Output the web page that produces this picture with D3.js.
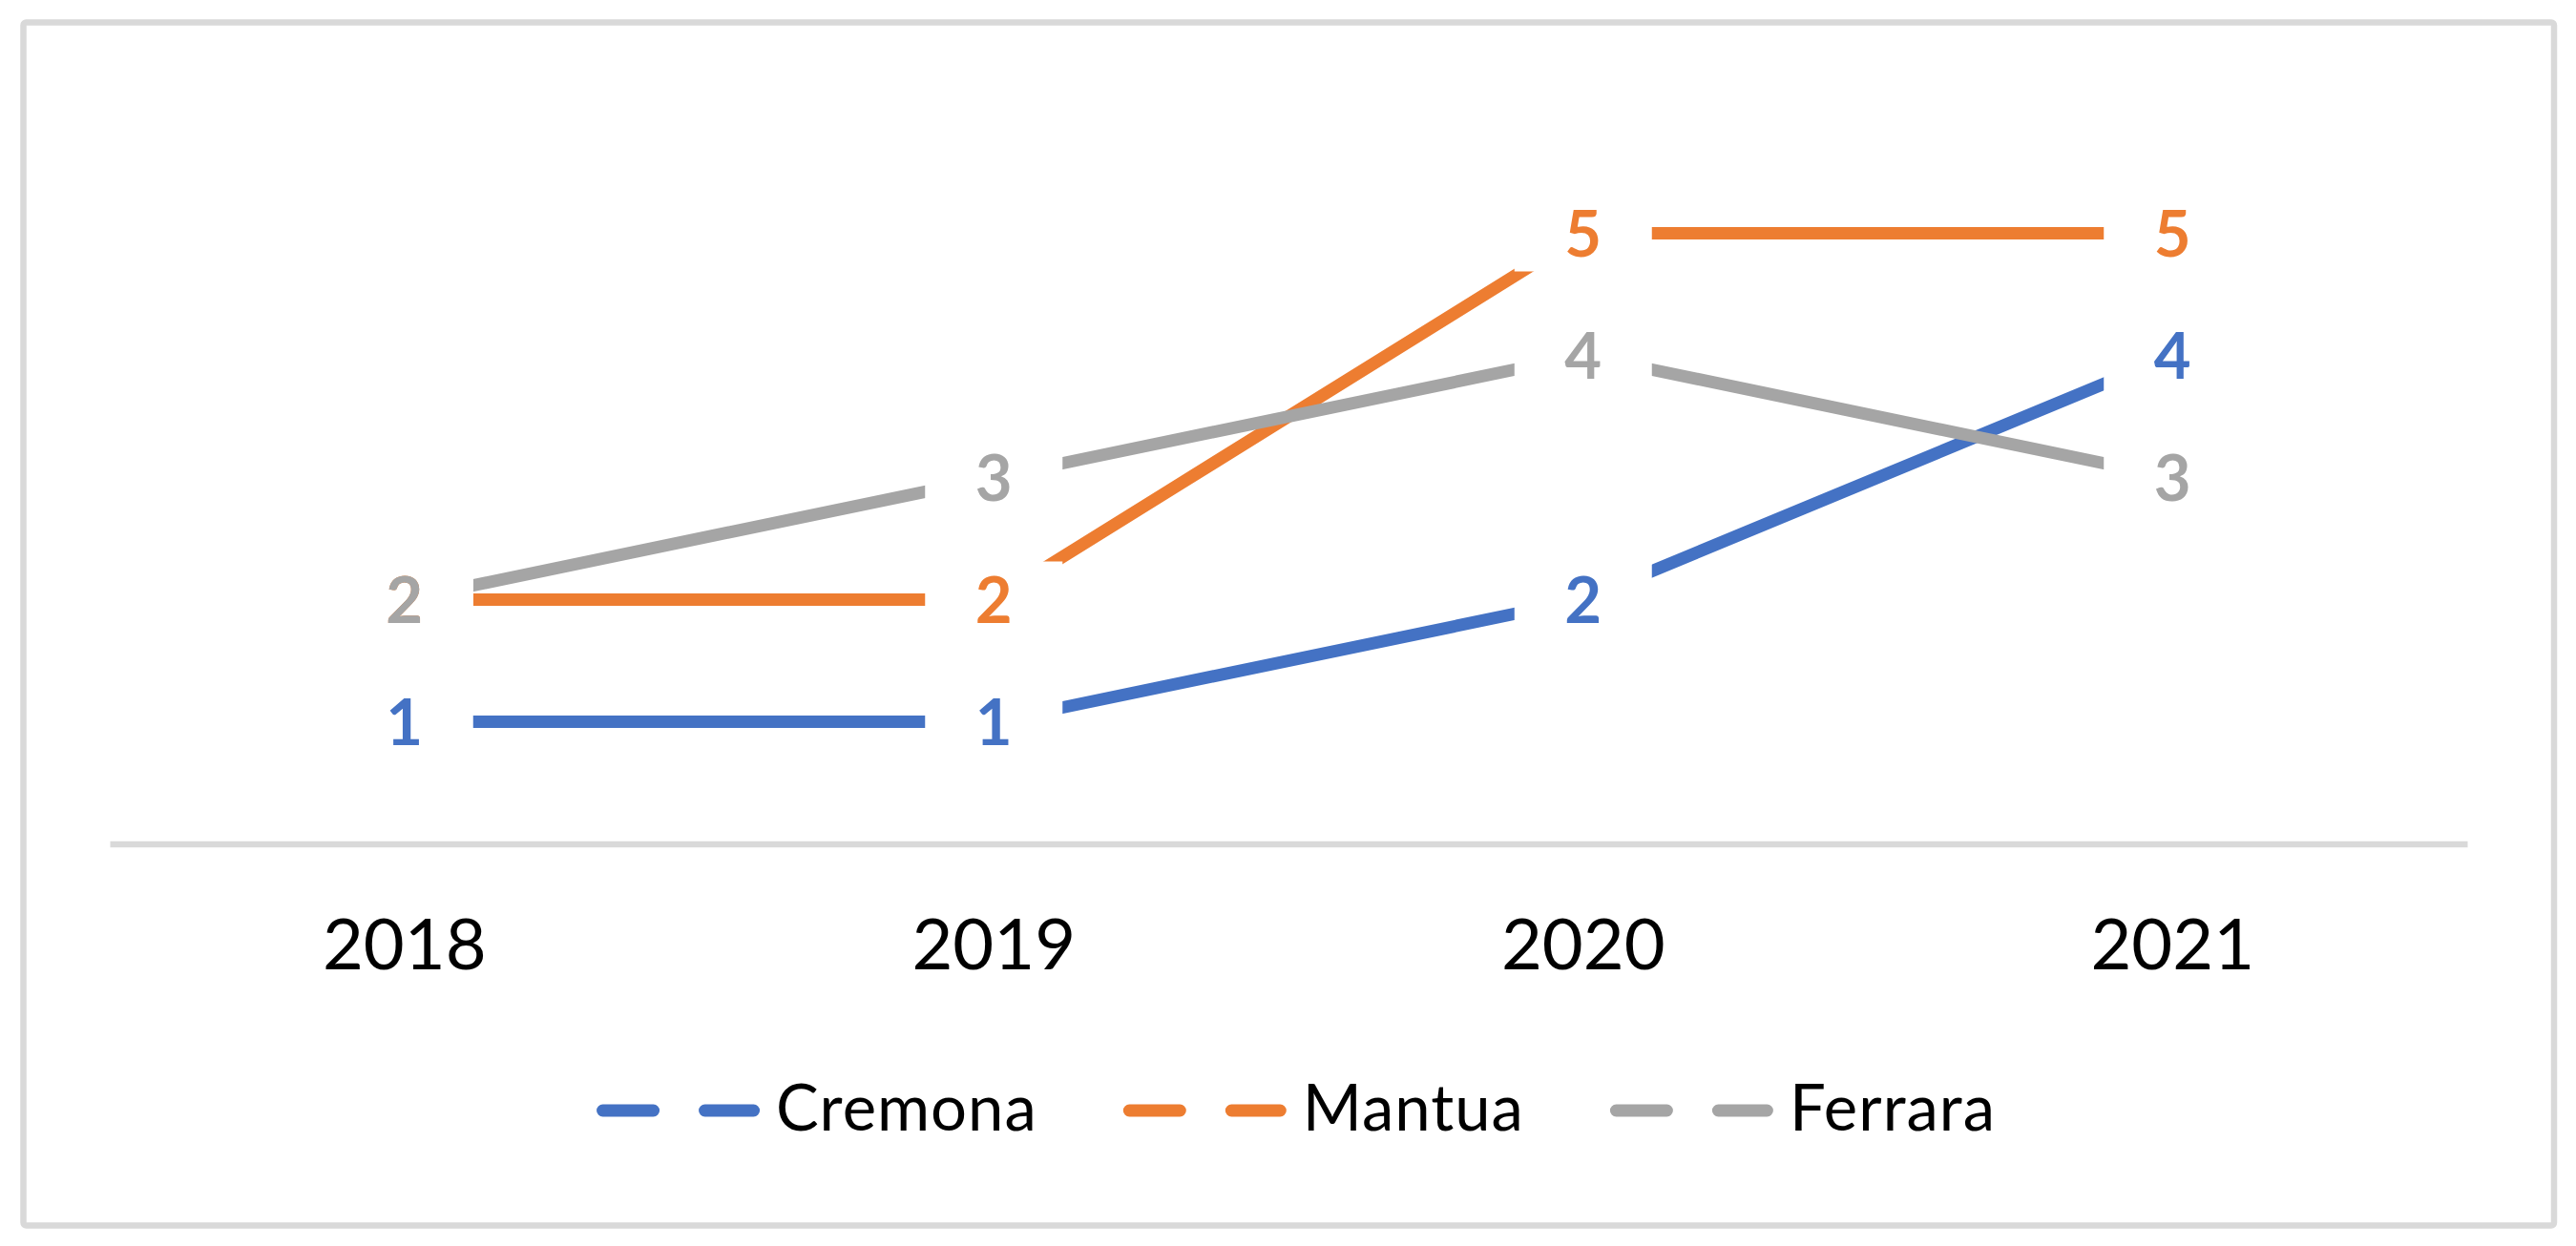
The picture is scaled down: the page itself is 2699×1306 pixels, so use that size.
<!DOCTYPE html>
<html>
<head>
<meta charset="utf-8">
<script src="https://cdn.jsdelivr.net/npm/d3@7"></script>
<style>
  html, body { margin: 0; padding: 0; background: #ffffff; }
  svg { display: block; }
</style>
</head>
<body>
<svg id="chart" width="2699" height="1306"></svg>
<script>
const categories = ["2018", "2019", "2020", "2021"];
const seriesNames = ["Cremona", "Mantua", "Ferrara"];
const cremona = [1, 1, 2, 4];
const mantua = [2, 2, 5, 5];
const ferrara = [2, 3, 4, 3];
const seriesColors = ["#4472C4", "#ED7D31", "#A5A5A5"];

const seriesValues = [cremona, mantua, ferrara];
const series = seriesNames.map((name, i) => ({
  name,
  color: seriesColors[i],
  values: seriesValues[i].map((v, j) => ({ cat: categories[j], value: v }))
}));

const W = 2699, H = 1306;
const svg = d3.select("#chart");
const fontFamily = "Lato, 'Open Sans', sans-serif";

// outer border
svg.append("rect")
  .attr("x", 24.5).attr("y", 23.5)
  .attr("width", 2676 - 24.5).attr("height", 1284.5 - 23.5)
  .attr("rx", 3)
  .attr("fill", "#ffffff")
  .attr("stroke", "#D9D9D9")
  .attr("stroke-width", 6.5);

const plotLeft = 115, plotRight = 2585;
const x = d3.scaleBand().domain(categories).range([plotLeft, plotRight]).padding(0);
const y = d3.scaleLinear().domain([0, 6]).range([884.5, 116.5]);
const cx = c => x(c) + x.bandwidth() / 2;

// category axis
const xAxis = d3.axisBottom(x).tickSize(0).tickPadding(0);
const gx = svg.append("g").attr("transform", `translate(0,${y(0)})`).call(xAxis);
gx.select(".domain").attr("stroke", "#D9D9D9").attr("stroke-width", 6.5);
gx.selectAll(".tick text")
  .attr("y", 0)
  .attr("dy", null)
  .attr("transform", "translate(0,131)")
  .attr("font-family", fontFamily)
  .attr("font-size", 74)
  .attr("fill", "#000000");

// lines
const line = d3.line().x(d => cx(d.cat)).y(d => y(d.value));
svg.append("g").selectAll("path")
  .data(series)
  .join("path")
  .attr("d", d => line(d.values))
  .attr("fill", "none")
  .attr("stroke", d => d.color)
  .attr("stroke-width", 13)
  .attr("stroke-linejoin", "round");

// data labels with white background boxes (as in the original)
const labels = series.flatMap(s => s.values.map(v => ({ ...v, color: s.color })));
const lg = svg.append("g");
lg.selectAll("rect")
  .data(labels)
  .join("rect")
  .attr("x", d => cx(d.cat) - 72)
  .attr("y", d => y(d.value) - 40)
  .attr("width", 144)
  .attr("height", 80)
  .attr("fill", "#ffffff");
lg.selectAll("text")
  .data(labels)
  .join("text")
  .attr("x", d => cx(d.cat))
  .attr("y", d => y(d.value) + 24)
  .attr("text-anchor", "middle")
  .attr("font-family", fontFamily)
  .attr("font-weight", "bold")
  .attr("font-size", 67)
  .attr("fill", d => d.color)
  .text(d => d.value);

// legend
const legend = svg.append("g");
const markerW = 171, textGap = 17, itemGap = 90, legendBaseline = 1185, markerY = 1164;
const items = legend.selectAll("g.item").data(series).join("g").attr("class", "item");
items.append("line")
  .attr("x1", 6.5).attr("x2", markerW - 6.5)
  .attr("y1", markerY).attr("y2", markerY)
  .attr("stroke", d => d.color)
  .attr("stroke-width", 13)
  .attr("stroke-linecap", "round")
  .attr("stroke-dasharray", "53 54");
items.append("text")
  .attr("x", markerW + textGap)
  .attr("y", legendBaseline)
  .attr("font-family", fontFamily)
  .attr("font-size", 67)
  .attr("letter-spacing", 1)
  .attr("fill", "#000000")
  .text(d => d.name);
const widths = [];
items.each(function() {
  widths.push(markerW + textGap + d3.select(this).select("text").node().getComputedTextLength());
});
const total = d3.sum(widths) + itemGap * (widths.length - 1);
let pos = 1358 - total / 2;
items.each(function(d, i) {
  d3.select(this).attr("transform", `translate(${pos},0)`);
  pos += widths[i] + itemGap;
});
</script>
</body>
</html>
